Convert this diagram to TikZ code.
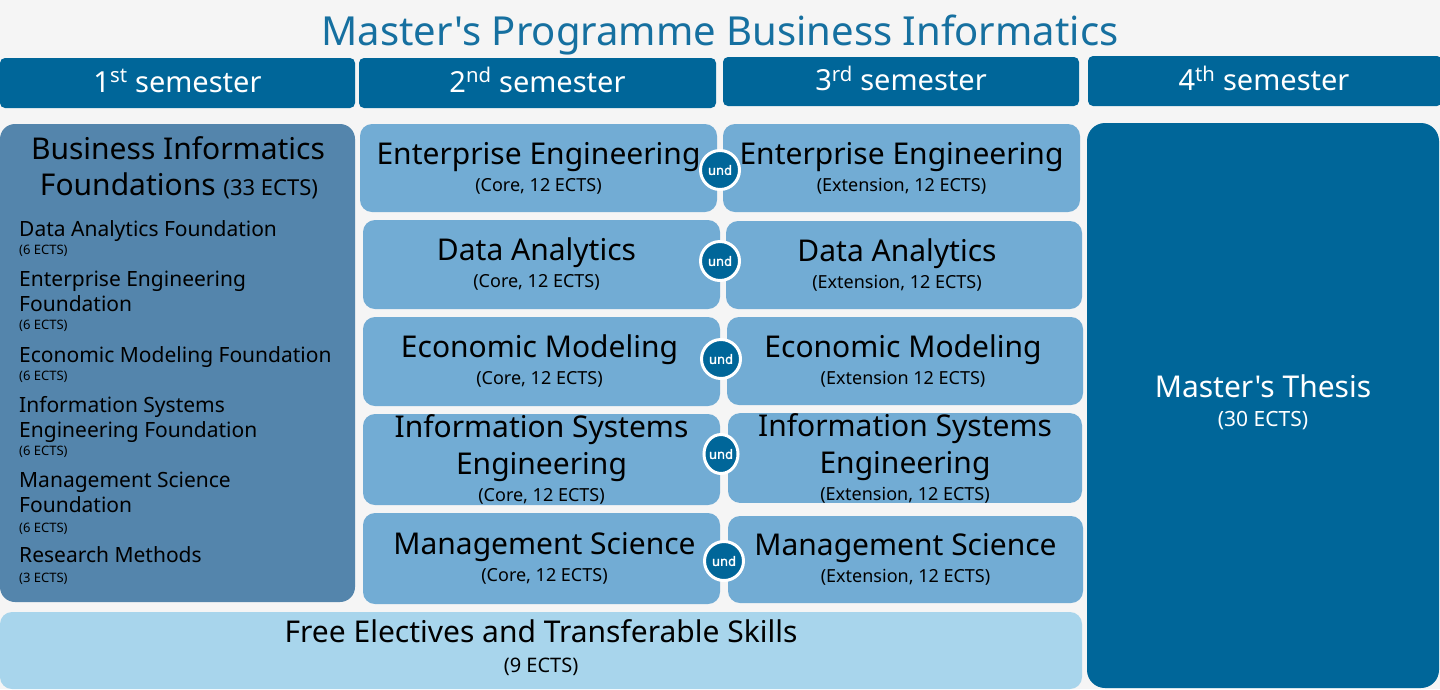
\documentclass[tikz,border=0pt]{standalone}
\usepackage{fontspec}
\setmainfont{Noto Sans}[Ligatures=TeXOff]
\newfontfamily\undfont{Noto Sans}[Ligatures=TeXOff,FakeBold=1.6]
\usetikzlibrary{shapes.geometric}
\definecolor{bg}{RGB}{245,245,245}
\definecolor{dark}{RGB}{0,102,153}
\definecolor{titlec}{RGB}{22,112,160}
\definecolor{core}{RGB}{114,172,212}
\definecolor{found}{RGB}{84,133,172}
\definecolor{elec}{RGB}{168,213,236}
\newcommand\ectsline[1]{{\fontsize{18}{20}\selectfont #1}}
\begin{document}
\begin{tikzpicture}[x=1pt,y=-1pt,
  box/.style={rounded corners=12pt, inner sep=0pt, outer sep=0pt, align=center, text=black},
  hdr/.style={box, fill=dark, text=white, rounded corners=5pt, font=\fontsize{29}{32}\selectfont},
  corebox/.style={box, fill=core, font=\fontsize{30}{37}\selectfont},
  und/.style={ellipse, fill=dark, draw=white, line width=3pt, text=white, inner sep=0pt,
    font=\undfont\fontsize{13}{15}\selectfont, minimum width=39, minimum height=39},
  item/.style={anchor=base west, inner sep=0pt, font=\fontsize{21}{25}\selectfont},
  itemects/.style={anchor=base west, inner sep=0pt, font=\fontsize{13}{15}\selectfont},
  head/.style={anchor=base, inner sep=0pt, font=\fontsize{30}{36}\selectfont},
  plain/.style={inner sep=0pt, outer sep=0pt, align=center}
]
\fill[bg] (0,0) rectangle (1440,689);
\useasboundingbox (0,0) rectangle (1440,689);

% title
\node[anchor=base, inner sep=0pt, text=titlec, font=\fontsize{40}{48}\selectfont] (title) at (720,45) {Master's Programme Business Informatics};

% headers
\node[hdr, minimum width=355, minimum height=50] (h1) at (177.5,83) {};
\node[hdr, minimum width=357, minimum height=50] (h2) at (537.5,83) {};
\node[hdr, minimum width=356, minimum height=49] (h3) at (901,81.5) {};
\node[hdr, minimum width=354, minimum height=50] (h4) at (1265,81) {};
\node[hdr, fill=none, anchor=base] (h1t) at (177.5,92) {1\textsuperscript{st} semester};
\node[hdr, fill=none, anchor=base] (h2t) at (537.5,92) {2\textsuperscript{nd} semester};
\node[hdr, fill=none, anchor=base] (h3t) at (901,90.5) {3\textsuperscript{rd} semester};
\node[hdr, fill=none, anchor=base] (h4t) at (1264,90.5) {4\textsuperscript{th} semester};

% foundations
\node[box, fill=found, rounded corners=15pt, minimum width=355, minimum height=478] (fb) at (177.5,363) {};
\node[head] (fbh1) at (178,159) {Business Informatics};
\node[head] (fbh2) at (179,195) {Foundations {\fontsize{22}{24}\selectfont(33 ECTS)}};
\node[item] (f1) at (19,236) {Data Analytics Foundation};
\node[itemects] (f1e) at (19,254) {(6 ECTS)};
\node[item] (f2) at (19,286) {Enterprise Engineering};
\node[item] (f2b) at (19,311) {Foundation};
\node[itemects] (f2e) at (19,329) {(6 ECTS)};
\node[item] (f3) at (19,362) {Economic Modeling Foundation};
\node[itemects] (f3e) at (19,380) {(6 ECTS)};
\node[item] (f4) at (19,412) {Information Systems};
\node[item] (f4b) at (19,437) {Engineering Foundation};
\node[itemects] (f4e) at (19,455) {(6 ECTS)};
\node[item] (f5) at (19,487) {Management Science};
\node[item] (f5b) at (19,512) {Foundation};
\node[itemects] (f5e) at (19,532) {(6 ECTS)};
\node[item] (f6) at (19,562) {Research Methods};
\node[itemects] (f6e) at (19,582) {(3 ECTS)};

% core column
\node[corebox, minimum width=357, minimum height=88] (c1) at (538.5,168) {Enterprise Engineering\\[-10pt]\ectsline{(Core, 12 ECTS)}};
\node[corebox, minimum width=357, minimum height=89] (c2) at (541.5,264.5) {Data Analytics\hspace*{10pt}\\[-10pt]\ectsline{(Core, 12 ECTS)\hspace*{10pt}}};
\node[corebox, minimum width=357, minimum height=89] (c3) at (541.5,361.5) {Economic Modeling\hspace*{4pt}\\[-10pt]\ectsline{(Core, 12 ECTS)\hspace*{4pt}}};
\node[corebox, minimum width=357, minimum height=91] (c4) at (541.5,459.5) {Information Systems\\Engineering\\[-10pt]\ectsline{(Core, 12 ECTS)}};
\node[corebox, minimum width=357, minimum height=91] (c5) at (541.5,558.5) {\hspace*{6pt}Management Science\\[-10pt]\ectsline{\hspace*{6pt}(Core, 12 ECTS)}};

% extension column
\node[corebox, minimum width=357, minimum height=88] (e1) at (901.5,168) {Enterprise Engineering\\[-10pt]\ectsline{(Extension, 12 ECTS)}};
\node[corebox, minimum width=356, minimum height=88] (e2) at (904,265) {Data Analytics\hspace*{14pt}\\[-10pt]\ectsline{(Extension, 12 ECTS)\hspace*{14pt}}};
\node[corebox, minimum width=356, minimum height=88] (e3) at (905,361) {Economic Modeling\hspace*{4pt}\\[-10pt]\ectsline{(Extension 12 ECTS)\hspace*{4pt}}};
\node[corebox, minimum width=354, minimum height=88] (e4) at (905,458) {Information Systems\\Engineering\\[-10pt]\ectsline{(Extension, 12 ECTS)}};
\node[corebox, minimum width=355, minimum height=87] (e5) at (905.5,559.5) {Management Science\\[-10pt]\ectsline{(Extension, 12 ECTS)}};

% thesis
\node[box, fill=dark, rounded corners=18pt, minimum width=352, minimum height=565] (th) at (1263,405.5) {};
\node[plain, text=white, font=\fontsize{30}{32}\selectfont] (tht) at ([yshift=3pt]th.center) {Master's Thesis\\[-3pt]{\fontsize{21}{23}\selectfont(30 ECTS)}};

% electives
\node[box, fill=elec, rounded corners=12pt, minimum width=1082, minimum height=77] (el) at (541,650.5) {};
\node[plain, font=\fontsize{30}{32}\selectfont] (elt) at ([yshift=3pt]el.center) {Free Electives and Transferable Skills\\[-2pt]{\fontsize{20}{22}\selectfont(9 ECTS)}};

% und markers
\node[und] (u1) at (720,170) {und};
\node[und] (u2) at (720,261) {und};
\node[und] (u3) at (721,359) {und};
\node[und, minimum width=34] (u4) at (721,454) {und};
\node[und] (u5) at (724,561) {und};
\end{tikzpicture}
\end{document}
